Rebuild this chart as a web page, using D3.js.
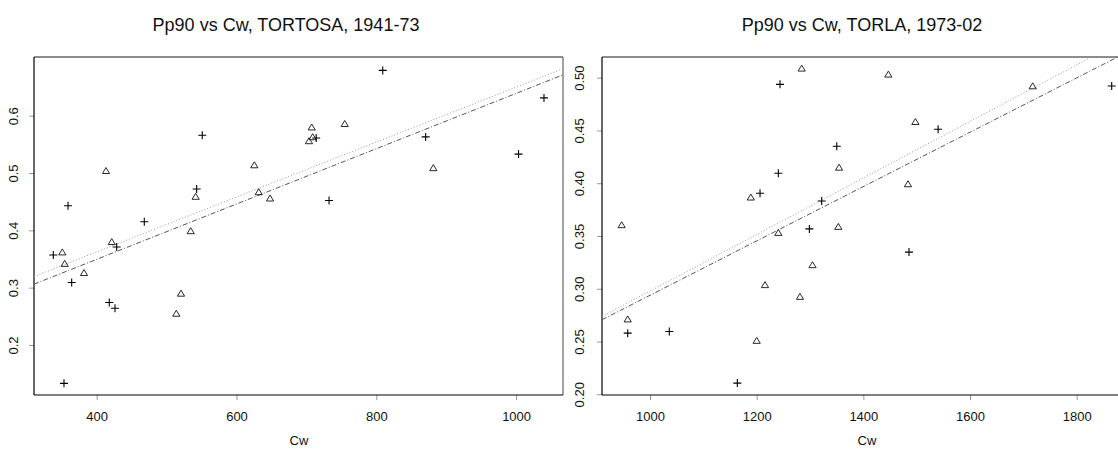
<!DOCTYPE html>
<html>
<head>
<meta charset="utf-8">
<script src="https://cdn.jsdelivr.net/npm/d3@7"></script>
<style>
  body { margin: 0; background: #fff; }
  svg text { font-family: "Liberation Sans", Arial, sans-serif; fill: #111; }
</style>
</head>
<body>
<svg id="chart" width="1118" height="450"></svg>
<script>
// TORTOSA 1941-73, [Cw, Pp90]
var tortosaCross = [
  [337.9, 0.357], [428.6, 0.371], [364.2, 0.309], [418, 0.274], [426.2, 0.264],
  [353.2, 0.133], [551, 0.566], [359, 0.443], [543, 0.472], [468.1, 0.415],
  [809.2, 0.679], [714, 0.561], [870.6, 0.563], [1003.5, 0.533], [1039.9, 0.631],
  [732.4, 0.452]
];
var tortosaTri = [
  [350.8, 0.362], [354.2, 0.342], [421.5, 0.380], [381.8, 0.326], [520.6, 0.290],
  [513.9, 0.255], [413.3, 0.504], [625.5, 0.514], [541.6, 0.459], [631.8, 0.467],
  [648, 0.456], [534.5, 0.399], [707.6, 0.580], [754.8, 0.586], [703.7, 0.556],
  [709, 0.563], [881.6, 0.509]
];
// TORLA 1973-02
var torlaCross = [
  [1243.8, 0.4937], [1350.2, 0.435], [1240.6, 0.4095], [1206.3, 0.3905], [1321.9, 0.3832],
  [1298.8, 0.3567], [1865.7, 0.4921], [1540.2, 0.4511], [1485.6, 0.3347], [958.2, 0.2579],
  [1036.2, 0.2595], [1163.7, 0.2106]
];
var torlaTri = [
  [1284.4, 0.5089], [1354.5, 0.415], [1189, 0.3867], [946.9, 0.3605], [1240.6, 0.3532],
  [1353.1, 0.3589], [1446.9, 0.5032], [1717.6, 0.4921], [1497.6, 0.4583], [1483.7, 0.3993],
  [1304.7, 0.3226], [1215.6, 0.3037], [1281.2, 0.2926], [958.2, 0.2712], [1200, 0.2509]
];

// fitted lines [intercept, slope]
var tortosaDotted = [0.1707, 0.000479];
var tortosaDashDot = [0.1564, 0.0004825];
var torlaDotted = [0.0299, 0.0002679];
var torlaDashDot = [0.0363, 0.0002575];

var tortosaXTicks = [400, 600, 800, 1000];
var tortosaYTicks = [0.2, 0.3, 0.4, 0.5, 0.6];
var torlaXTicks = [1000, 1200, 1400, 1600, 1800];
var torlaYTicks = [0.20, 0.25, 0.30, 0.35, 0.40, 0.45, 0.50];

var svg = d3.select('#chart');

function drawPanel(opt) {
  var xScale = d3.scaleLinear().domain(opt.xDomain).range([opt.left, opt.right]);
  var yScale = d3.scaleLinear().domain(opt.yDomain).range([opt.bottom, opt.top]);
  var g = svg.append('g');

  g.append('clipPath').attr('id', opt.id + '-clip')
    .append('rect')
    .attr('x', opt.left).attr('y', opt.top)
    .attr('width', opt.right - opt.left).attr('height', opt.bottom - opt.top);

  // title
  g.append('text')
    .attr('x', opt.titleX).attr('y', 31)
    .attr('text-anchor', 'middle')
    .style('font-size', '18px')
    .text(opt.title);

  // x axis
  var xAxis = d3.axisBottom(xScale).tickValues(opt.xTicks).tickSize(5).tickPadding(12)
    .tickFormat(d3.format('d'));
  g.append('g')
    .attr('transform', 'translate(0,' + opt.bottom + ')')
    .call(xAxis)
    .call(a => a.select('.domain').remove())
    .call(a => a.selectAll('.tick line').attr('stroke', '#999'))
    .call(a => a.selectAll('.tick text')
      .style('font-size', '13px')
      .style('font-family', '"Liberation Sans", Arial, sans-serif')
      .attr('fill', '#111'));

  // y axis, labels rotated as in R
  var yAxis = d3.axisLeft(yScale).tickValues(opt.yTicks).tickSize(5)
    .tickFormat(d3.format(opt.yFormat));
  g.append('g')
    .attr('transform', 'translate(' + opt.left + ',0)')
    .call(yAxis)
    .call(a => a.select('.domain').remove())
    .call(a => a.selectAll('.tick line').attr('stroke', '#999'))
    .call(a => a.selectAll('.tick text')
      .style('font-size', '13px')
      .style('font-family', '"Liberation Sans", Arial, sans-serif')
      .attr('fill', '#111')
      .attr('x', null).attr('dy', null)
      .attr('text-anchor', 'middle')
      .attr('transform', 'translate(' + (-opt.yLabelGap) + ',0) rotate(-90)'));

  // axis title
  g.append('text')
    .attr('x', opt.xLabelX).attr('y', 445)
    .attr('text-anchor', 'middle')
    .style('font-size', '13px')
    .text('Cw');

  // box
  g.append('line').attr('x1', opt.left).attr('x2', opt.right)
    .attr('y1', opt.top).attr('y2', opt.top)
    .attr('stroke', '#666').attr('stroke-width', 1.5);
  g.append('line').attr('x1', opt.right).attr('x2', opt.right)
    .attr('y1', opt.top).attr('y2', opt.bottom)
    .attr('stroke', '#666').attr('stroke-width', 1.2);
  g.append('line').attr('x1', opt.left).attr('x2', opt.right)
    .attr('y1', opt.bottom).attr('y2', opt.bottom)
    .attr('stroke', '#000').attr('stroke-width', 1.2);
  g.append('line').attr('x1', opt.left).attr('x2', opt.left)
    .attr('y1', opt.top).attr('y2', opt.bottom)
    .attr('stroke', '#000').attr('stroke-width', 1.2);

  var inner = g.append('g').attr('clip-path', 'url(#' + opt.id + '-clip)');

  // regression lines
  var line = d3.line().x(d => xScale(d[0])).y(d => yScale(d[1]));
  function fitPts(f) {
    return opt.xDomain.map(x => [x, f[0] + f[1] * x]);
  }
  inner.append('path')
    .attr('d', line(fitPts(opt.dotted)))
    .attr('fill', 'none').attr('stroke', '#9a9a9a')
    .attr('stroke-width', 1).attr('stroke-dasharray', '1,2');
  inner.append('path')
    .attr('d', line(fitPts(opt.dashDot)))
    .attr('fill', 'none').attr('stroke', '#555')
    .attr('stroke-width', 1).attr('stroke-dasharray', '5,2,1,2');

  // triangles
  inner.selectAll('.tri')
    .data(opt.tri)
    .enter().append('path')
    .attr('class', 'tri')
    .attr('transform', d => 'translate(' + xScale(d[0]) + ',' + yScale(d[1]) + ')')
    .attr('d', 'M0,-3.2L3.6,2.8L-3.6,2.8Z')
    .attr('fill', 'none').attr('stroke', '#111').attr('stroke-width', 0.9);

  // crosses
  inner.selectAll('.cross')
    .data(opt.cross)
    .enter().append('path')
    .attr('class', 'cross')
    .attr('transform', d => 'translate(' + xScale(d[0]) + ',' + yScale(d[1]) + ')')
    .attr('d', 'M-4,0H4M0,-4V4')
    .attr('fill', 'none').attr('stroke', '#000').attr('stroke-width', 1.1);
}

drawPanel({
  id: 'tortosa',
  title: 'Pp90 vs Cw, TORTOSA, 1941-73',
  titleX: 286, xLabelX: 299,
  left: 34, right: 563, top: 57, bottom: 395,
  xDomain: [310.3, 1067.1], yDomain: [0.1127, 0.7024],
  xTicks: tortosaXTicks, yTicks: tortosaYTicks, yFormat: '.1f', yLabelGap: 16,
  cross: tortosaCross, tri: tortosaTri,
  dotted: tortosaDotted, dashDot: tortosaDashDot
});

drawPanel({
  id: 'torla',
  title: 'Pp90 vs Cw, TORLA, 1973-02',
  titleX: 862, xLabelX: 867,
  left: 602, right: 1134, top: 57, bottom: 395,
  xDomain: [910, 1907.5], yDomain: [0.1993, 0.5196],
  xTicks: torlaXTicks, yTicks: torlaYTicks, yFormat: '.2f', yLabelGap: 18,
  cross: torlaCross, tri: torlaTri,
  dotted: torlaDotted, dashDot: torlaDashDot
});
</script>
</body>
</html>
